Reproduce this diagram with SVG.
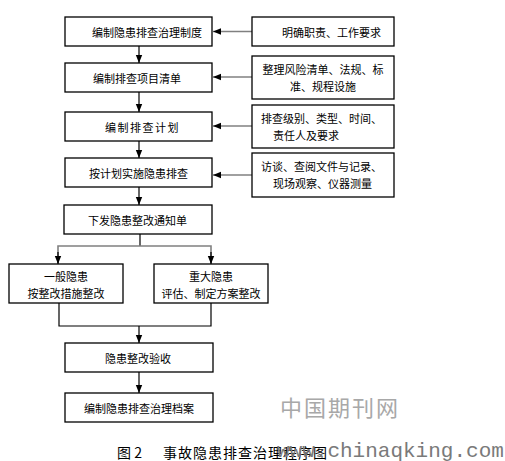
<svg xmlns="http://www.w3.org/2000/svg" width="505" height="461" viewBox="0 0 505 461">
<style>
.box{fill:#fff;stroke:#000;stroke-width:1.3}
.t{font-family:"Noto Sans CJK SC","Noto Sans",sans-serif;font-size:11px;fill:#000;dominant-baseline:central}
.c{text-anchor:middle}
.ln{fill:none;stroke:#000;stroke-width:1.2}
.gl{fill:none;stroke:#808080;stroke-width:1.6}
.cap{font-family:"Noto Sans CJK SC","Noto Sans",sans-serif;font-size:14px;fill:#000;dominant-baseline:central}
</style>
<defs>
<marker id="ah" viewBox="0 0 8 8" refX="8" refY="4" markerWidth="8" markerHeight="8" markerUnits="userSpaceOnUse" orient="auto">
<path d="M0,0.8 L8,4 L0,7.2 Z" fill="#000"/>
</marker>
</defs>
<rect width="505" height="461" fill="#fff"/>
<g id="connectors">
<line class="ln" x1="139" y1="46" x2="139" y2="63" marker-end="url(#ah)"/>
<line class="ln" x1="139" y1="92" x2="139" y2="112" marker-end="url(#ah)"/>
<line class="ln" x1="139" y1="141" x2="139" y2="158" marker-end="url(#ah)"/>
<line class="ln" x1="139" y1="187" x2="139" y2="205" marker-end="url(#ah)"/>
<line class="gl" x1="252" y1="31.5" x2="213" y2="31.5" marker-end="url(#ah)"/>
<line class="gl" x1="252" y1="77" x2="213" y2="77" marker-end="url(#ah)"/>
<line class="gl" x1="252" y1="126" x2="213" y2="126" marker-end="url(#ah)"/>
<line class="gl" x1="252" y1="175" x2="213" y2="175" marker-end="url(#ah)"/>
<line class="ln" x1="140" y1="234" x2="140" y2="246"/>
<polyline class="gl" points="58,263 58,246 211,246 211,263"/>
<line class="ln" x1="58" y1="252" x2="58" y2="264" marker-end="url(#ah)"/>
<line class="ln" x1="211" y1="252" x2="211" y2="264" marker-end="url(#ah)"/>
<polyline class="ln" points="59,303 59,326 211,326 211,303"/>
<line class="ln" x1="139" y1="326" x2="139" y2="343" marker-end="url(#ah)"/>
<line class="ln" x1="139" y1="372" x2="139" y2="393" marker-end="url(#ah)"/>
</g>
<g id="n1"><rect class="box" x="65" y="17" width="147" height="29"/><text class="t" x="92" y="31.5">编制隐患排查治理制度</text></g>
<g id="n2"><rect class="box" x="65" y="63" width="147" height="29"/><text class="t" x="93" y="77.5">编制排查项目清单</text></g>
<g id="n3"><rect class="box" x="65" y="112" width="147" height="29"/><text class="t" x="105" y="126.5" letter-spacing="1.5">编制排查计划</text></g>
<g id="n4"><rect class="box" x="65" y="158" width="147" height="29"/><text class="t" x="89" y="172.5">按计划实施隐患排查</text></g>
<g id="n5"><rect class="box" x="64" y="205" width="148" height="29"/><text class="t" x="88" y="219.5">下发隐患整改通知单</text></g>
<g id="n6"><rect class="box" x="9" y="264" width="114" height="39"/><text class="t c" x="66" y="276">一般隐患</text><text class="t c" x="66" y="293">按整改措施整改</text></g>
<g id="n7"><rect class="box" x="154" y="264" width="114" height="39"/><text class="t c" x="211" y="276">重大隐患</text><text class="t c" x="211" y="293">评估、制定方案整改</text></g>
<g id="n8"><rect class="box" x="65" y="343" width="148" height="29"/><text class="t" x="105" y="357.5">隐患整改验收</text></g>
<g id="n9"><rect class="box" x="65" y="393" width="148" height="29"/><text class="t" x="84" y="407.5">编制隐患排查治理档案</text></g>
<g id="r1"><rect class="box" x="252" y="17" width="142" height="29"/><text class="t" x="282" y="31.5">明确职责、工作要求</text></g>
<g id="r2"><rect class="box" x="252" y="56" width="142" height="43"/><text class="t c" x="323" y="69">整理风险清单、法规、标</text><text class="t c" x="323" y="86">准、规程设施</text></g>
<g id="r3"><rect class="box" x="252" y="105" width="142" height="43"/><text class="t" x="261" y="118">排查级别、类型、时间、</text><text class="t" x="273" y="135">责任人及要求</text></g>
<g id="r4"><rect class="box" x="252" y="153" width="142" height="44"/><text class="t" x="261" y="166">访谈、查阅文件与记录、</text><text class="t" x="273" y="183">现场观察、仪器测量</text></g>
<text x="280" y="406" font-family="Noto Sans CJK SC,sans-serif" font-size="22" fill="#a8a8a8" letter-spacing="2" dominant-baseline="central">中国期刊网</text>
<text class="cap" x="117" y="452">图 2</text>
<text class="cap" x="163" y="452" letter-spacing="1">事故隐患排查治理程序图</text>
<text x="277" y="451" font-family="Liberation Mono,monospace" font-size="21" fill="#7a7a7a" dominant-baseline="central">www.chinaqking.com</text>
</svg>
